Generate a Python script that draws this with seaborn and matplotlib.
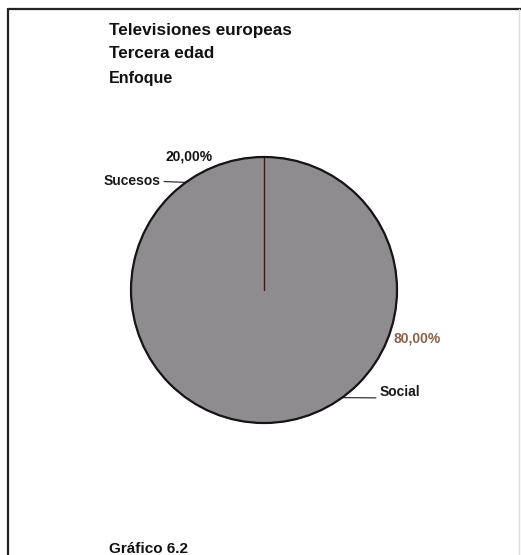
import matplotlib
matplotlib.use('Agg')
import matplotlib.pyplot as plt
import seaborn as sns
import numpy as np
from matplotlib.lines import Line2D

sns.set_style('white')
plt.rcParams['font.family'] = ['Liberation Sans', 'DejaVu Sans']

# data
categories = ['Sucesos', 'Social']
values = [20.0, 80.0]
pct_labels = ['20,00%', '80,00%']
title_lines = ['Televisiones europeas', 'Tercera edad']
subtitle = 'Enfoque'
caption = 'Gráfico 6.2'

W, H = 521, 555
fig = plt.figure(figsize=(W / 100, H / 100), dpi=100)
fig.patch.set_facecolor('white')

# pie axes: centre (264, 290) px, radius 133 px
cx, cy, r = 264, 290, 133
pie_color = '#8f8c8f'
ax = fig.add_axes([(cx - r) / W, (H - cy - r) / H, 2 * r / W, 2 * r / H])
wedges, _ = ax.pie(values, startangle=90, counterclock=True,
                   colors=[pie_color, pie_color],
                   wedgeprops=dict(edgecolor=pie_color, linewidth=1.0))
ax.set_xlim(-1, 1)
ax.set_ylim(-1, 1)
ax.set_aspect('equal')
ax.axis('off')

# outline and the one visible slice border (scan lost the other one)
ax.add_patch(plt.Circle((0, 0), 1, fill=False, ec='#151515', lw=1.6,
                        clip_on=False, zorder=5))
t0 = np.deg2rad(wedges[0].theta1)
ax.plot([0, np.cos(t0)], [0, np.sin(t0)], color='#3a1c1c', lw=1.0, zorder=4)

# label placement per wedge (offsets in pixels from the wedge edge midpoint)
name_offsets = [(-25, 1), (37, 6)]
name_ha = ['right', 'left']
name_relpos = [(1, 0.5), (0, 0.05)]
pct_offsets = [(3, 26), (75, 59)]
pct_colors = ['#111111', '#8a6248']
for w, name, pct, noff, ha, rp, poff, pc in zip(wedges, categories, pct_labels,
                                                   name_offsets, name_ha, name_relpos,
                                                   pct_offsets, pct_colors):
    ang = np.deg2rad((w.theta1 + w.theta2) / 2)
    x, y = np.cos(ang), np.sin(ang)
    ax.annotate(name, xy=(x, y), xytext=noff, textcoords='offset pixels',
                ha=ha, va='center', fontsize=10, fontweight='bold', color='#1a1a1a',
                arrowprops=dict(arrowstyle='-', color='#333333', lw=0.9,
                                shrinkA=0, shrinkB=0, relpos=rp))
    ax.annotate(pct, xy=(x, y), xytext=poff, textcoords='offset pixels',
                ha='center', va='center', fontsize=10, fontweight='bold', color=pc)

# titles
fig.text(109 / W, 1 - 31 / H, title_lines[0], fontsize=12.3, fontweight='bold',
         va='center', ha='left', color='#111111')
fig.text(109 / W, 1 - 53 / H, title_lines[1], fontsize=12.3, fontweight='bold',
         va='center', ha='left', color='#111111')
fig.text(109 / W, 1 - 79 / H, subtitle, fontsize=11.5, fontweight='bold',
         va='center', ha='left', color='#111111')
fig.text(109 / W, 1 - 549 / H, caption, fontsize=11, fontweight='bold',
         va='center', ha='left', color='#111111')

# scanned page frame
fig.add_artist(Line2D([8 / W, 1], [1 - 9 / H, 1 - 9 / H], color='#222222', lw=1.6))
fig.add_artist(Line2D([8 / W, 8 / W], [0, 1 - 9 / H], color='#222222', lw=1.6))
fig.add_artist(Line2D([519 / W, 519 / W], [0, 1 - 9 / H], color='#dddddd', lw=1))

fig.savefig('out.png', dpi=100, facecolor='white')
